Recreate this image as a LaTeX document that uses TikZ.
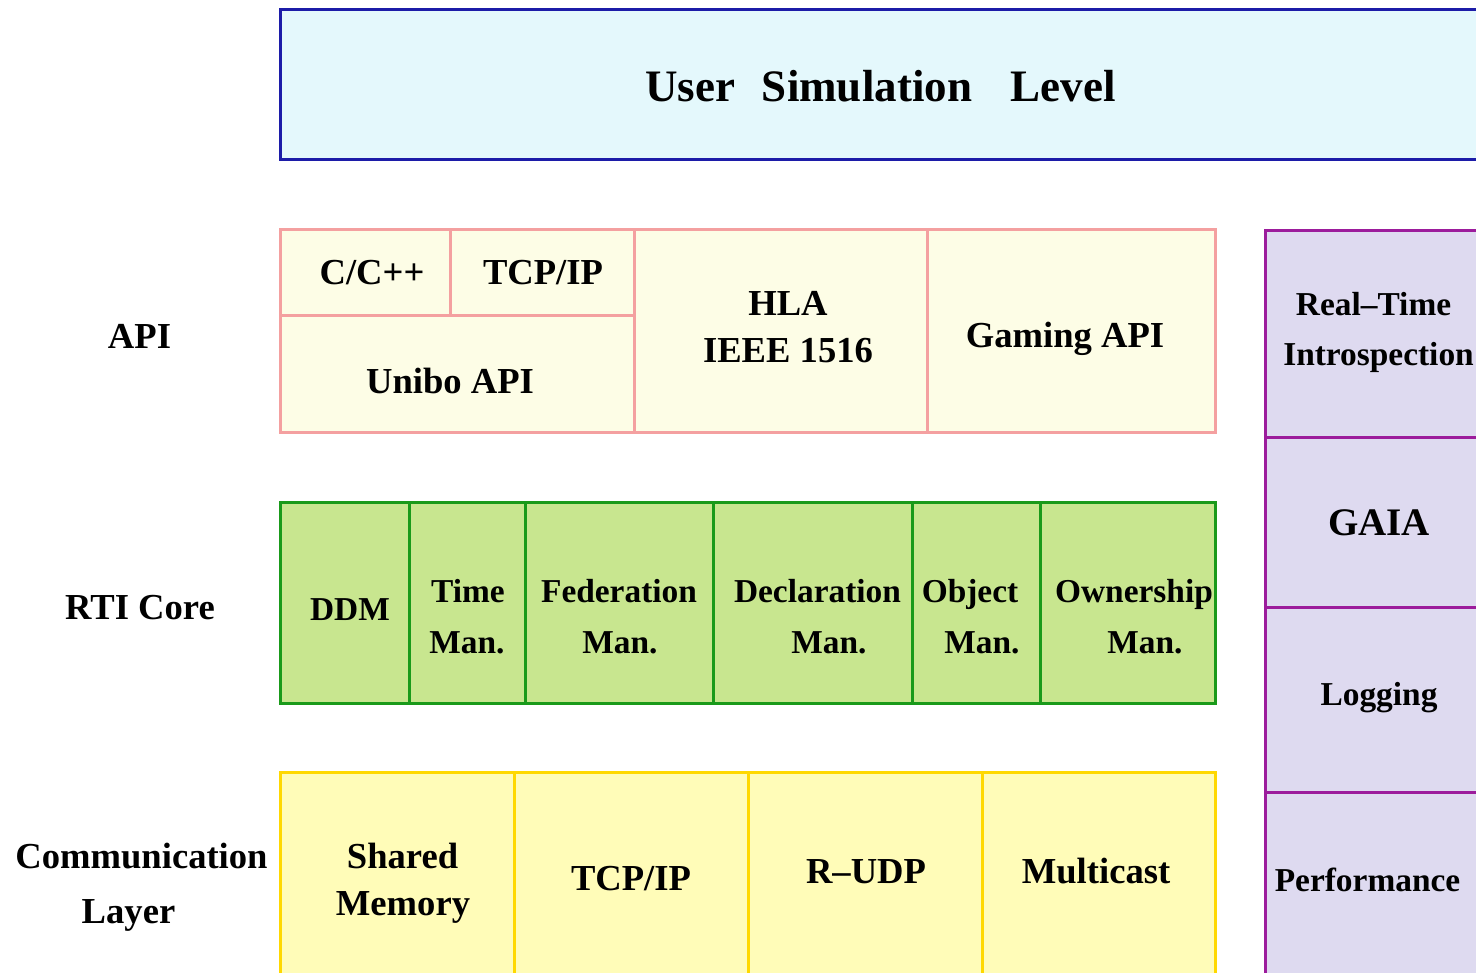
\documentclass[tikz,border=0pt]{standalone}
\usepackage{fontspec}
\setmainfont{Liberation Serif}
\definecolor{userline}{HTML}{1C1CA8}
\definecolor{userfill}{HTML}{E4F8FC}
\definecolor{apiline}{HTML}{F4A0A0}
\definecolor{apifill}{HTML}{FDFDE6}
\definecolor{rtiline}{HTML}{1A9A1A}
\definecolor{rtifill}{HTML}{C8E68F}
\definecolor{comline}{HTML}{FFD800}
\definecolor{comfill}{HTML}{FFFCB8}
\definecolor{toolline}{HTML}{9C1C9C}
\definecolor{toolfill}{HTML}{DEDAF0}
\tikzset{
  lbl/.style={anchor=base, inner sep=0pt, font=\bfseries\fontsize{18.3pt}{20pt}\selectfont},
  small/.style={lbl, font=\bfseries\fontsize{16.7pt}{18pt}\selectfont},
  big/.style={lbl, font=\bfseries\fontsize{19.5pt}{21pt}\selectfont},
  title/.style={lbl, font=\bfseries\fontsize{22.5pt}{24pt}\selectfont},
  layer/.style={line width=1.5pt},
}
\begin{document}
\begin{tikzpicture}[x=0.5pt, y=-0.5pt]
\useasboundingbox (0,0) rectangle (1476,973);
\clip (0,0) rectangle (1476,973);
\fill[white] (0,0) rectangle (1476,973);

% user level
\draw[layer, draw=userline, fill=userfill] (280,10) rectangle (1495,160);
\node[title] (uUser) at (690,102) {User};
\node[title] (uSim) at (867,102) {Simulation};
\node[title] (uLev) at (1063,102) {Level};

% API layer
\draw[layer, draw=apiline, fill=apifill] (280,230) rectangle (1215,432);
\draw[layer, draw=apiline] (450,230) -- (450,315);
\draw[layer, draw=apiline] (280,315) -- (634,315);
\draw[layer, draw=apiline] (634,230) -- (634,432);
\draw[layer, draw=apiline] (927,230) -- (927,432);
\node[lbl] (cpp) at (372,285) {C/C++};
\node[lbl] (tcpapi) at (543,285) {TCP/IP};
\node[lbl] (unibo) at (450,393) {Unibo API};
\node[lbl] (hla) at (788,315) {HLA};
\node[lbl] (ieee) at (788,362) {IEEE 1516};
\node[lbl] (gaming) at (1065,347) {Gaming API};

% RTI core
\draw[layer, draw=rtiline, fill=rtifill] (280,502) rectangle (1215,703);
\foreach \x in {409,525,713,912,1040}
  \draw[layer, draw=rtiline] (\x,502) -- (\x,703);
\node[small] (ddm) at (350,620) {DDM};
\node[small] (timeA) at (468,602) {Time};
\node[small] (timeB) at (467,653) {Man.};
\node[small] (fedA) at (619,602) {Federation};
\node[small] (fedB) at (620,653) {Man.};
\node[small] (declA) at (817.5,602) {Declaration};
\node[small] (declB) at (829,653) {Man.};
\node[small] (objA) at (970,602) {Object};
\node[small] (objB) at (982,653) {Man.};
\node[small] (ownA) at (1134,602) {Ownership};
\node[small] (ownB) at (1145,653) {Man.};

% communication layer
\draw[layer, draw=comline, fill=comfill] (280,772) rectangle (1215,995);
\foreach \x in {514,748,982}
  \draw[layer, draw=comline] (\x,772) -- (\x,995);
\node[lbl] (sharedA) at (402.5,868) {Shared};
\node[lbl] (sharedB) at (403,915) {Memory};
\node[lbl] (tcpcom) at (631,890) {TCP/IP};
\node[lbl] (rudp) at (866,883) {R–UDP};
\node[lbl] (mcast) at (1096,883) {Multicast};

% side tools column
\draw[layer, draw=toolline, fill=toolfill] (1265,231) rectangle (1495,995);
\foreach \y in {437,607,792}
  \draw[layer, draw=toolline] (1265,\y) -- (1495,\y);
\node[small] (rtA) at (1373.5,315) {Real–Time};
\node[small] (rtB) at (1378.5,365) {Introspection};
\node[big] (gaia) at (1379,535) {GAIA};
\node[small] (logging) at (1379,705) {Logging};
\node[small] (perf) at (1367.5,891) {Performance};

% row labels
\node[lbl] (lapi) at (139.5,348) {API};
\node[lbl] (lrti) at (140,619) {RTI Core};
\node[lbl] (lcomA) at (141.5,868) {Communication};
\node[lbl] (lcomB) at (128.5,923) {Layer};
\end{tikzpicture}
\end{document}
